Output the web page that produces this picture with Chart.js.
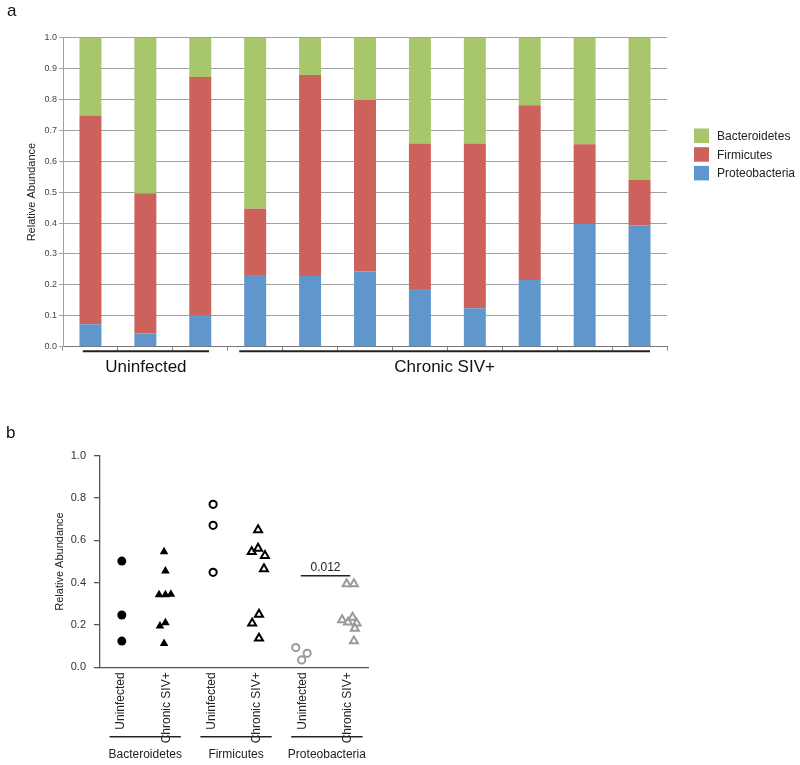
<!DOCTYPE html>
<html>
<head>
<meta charset="utf-8">
<script src="https://cdn.jsdelivr.net/npm/chart.js@4.4.0/dist/chart.umd.min.js"></script>
<style>
  body { margin: 0; background: #fff; }
  #wrap { position: relative; width: 800px; height: 765px; }
  #chartA { position: absolute; left: 0; top: 0; }
  #chartB { position: absolute; left: 0; top: 380px; }
</style>
</head>
<body>
<div id="wrap">
  <canvas id="chartA" width="800" height="380"></canvas>
  <canvas id="chartB" width="800" height="385"></canvas>
</div>
<script>
// ---- panel a : relative abundance per animal ----
const samples = ['U1', 'U2', 'U3', 'S1', 'S2', 'S3', 'S4', 'S5', 'S6', 'S7', 'S8'];
const proteobacteria = [0.073, 0.043, 0.100, 0.232, 0.229, 0.243, 0.187, 0.124, 0.216, 0.397, 0.393];
const firmicutes     = [0.675, 0.453, 0.772, 0.214, 0.650, 0.555, 0.470, 0.533, 0.565, 0.258, 0.146];
const bacteroidetes  = [0.252, 0.504, 0.128, 0.554, 0.121, 0.202, 0.343, 0.343, 0.219, 0.345, 0.461];
const groupNamesA = ['Uninfected', 'Chronic SIV+'];
const groupSpansA = [[-0.14, 2.16], [2.71, 10.19]];

// ---- panel b : per phylum, uninfected vs chronic ----
const xLabelsB = ['Uninfected', 'Chronic SIV+', 'Uninfected', 'Chronic SIV+', 'Uninfected', 'Chronic SIV+'];
const phylaB = ['Bacteroidetes', 'Firmicutes', 'Proteobacteria'];
const bactUninf = [0.502, 0.247, 0.124];
const bactUninfJit = [0.02, 0.02, 0.02];
const bactSiv = [0.546, 0.455, 0.343, 0.343, 0.345, 0.195, 0.210, 0.112];
const bactSivJit = [-0.05, -0.02, -0.16, -0.02, 0.10, -0.14, -0.02, -0.05];
const firmUninf = [0.770, 0.671, 0.449];
const firmUninfJit = [0.03, 0.03, 0.03];
const firmSiv = [0.649, 0.546, 0.562, 0.528, 0.465, 0.250, 0.208, 0.137];
const firmSivJit = [0.02, -0.12, 0.02, 0.17, 0.15, 0.04, -0.11, 0.04];
const protUninf = [0.093, 0.035, 0.066];
const protUninfJit = [-0.15, -0.02, 0.10];
const protSiv = [0.394, 0.394, 0.224, 0.213, 0.236, 0.208, 0.184, 0.124];
const protSivJit = [-0.03, 0.13, -0.13, 0.00, 0.10, 0.19, 0.15, 0.13];
const sigSpan = [4.96, 6.05];
const sigLevel = 0.433;
const sigLabel = '0.012';

const green = '#a8c66c';
const red = '#cd625c';
const blue = '#5f97cd';
const grey = '#9a9a9a';
const font = '"Liberation Sans", Arial, sans-serif';

Chart.defaults.font.family = font;
Chart.defaults.color = '#222';

// custom legend, group labels and panel letter for chart a
const panelAExtras = {
  id: 'panelAExtras',
  afterDraw(chart) {
    const ctx = chart.ctx;
    const area = chart.chartArea;
    const x = chart.scales.x;
    ctx.save();
    // legend (top to bottom = top of stack first)
    const ds = chart.data.datasets.slice().reverse();
    ds.forEach((d, k) => {
      const top = 128.5 + k * 18.7;
      ctx.fillStyle = d.backgroundColor;
      ctx.fillRect(area.right + 27, top, 15, 14.5);
      ctx.fillStyle = '#222';
      ctx.font = '12px ' + font;
      ctx.textBaseline = 'middle';
      ctx.textAlign = 'left';
      ctx.fillText(d.label, area.right + 50, top + 8);
    });
    // group underlines + names
    groupNamesA.forEach((name, i) => {
      const x1 = x.getPixelForValue(groupSpansA[i][0]);
      const x2 = x.getPixelForValue(groupSpansA[i][1]);
      ctx.strokeStyle = '#222';
      ctx.lineWidth = 2;
      ctx.beginPath();
      ctx.moveTo(x1, area.bottom + 4.5);
      ctx.lineTo(x2, area.bottom + 4.5);
      ctx.stroke();
      ctx.fillStyle = '#111';
      ctx.font = '17px ' + font;
      ctx.textAlign = 'center';
      ctx.textBaseline = 'alphabetic';
      ctx.fillText(name, (x1 + x2) / 2, area.bottom + 25.5);
    });
    ctx.font = '17px ' + font;
    ctx.textAlign = 'left';
    ctx.fillStyle = '#111';
    ctx.fillText('a', 7, 16);
    ctx.restore();
  }
};

new Chart(document.getElementById('chartA'), {
  type: 'bar',
  data: {
    labels: samples,
    datasets: [
      { label: 'Proteobacteria', data: proteobacteria, backgroundColor: blue },
      { label: 'Firmicutes', data: firmicutes, backgroundColor: red },
      { label: 'Bacteroidetes', data: bacteroidetes, backgroundColor: green }
    ]
  },
  options: {
    responsive: false,
    animation: false,
    barPercentage: 0.4,
    categoryPercentage: 1.0,
    layout: { padding: { left: 21, right: 133, top: 37.5, bottom: 28.3 } },
    plugins: { legend: { display: false }, tooltip: { enabled: false } },
    scales: {
      x: {
        stacked: true,
        ticks: { display: false },
        grid: { drawOnChartArea: false, drawTicks: true, tickLength: 4, color: '#888' },
        border: { color: '#777' },
        afterFit: s => { s.height = 5; }
      },
      y: {
        stacked: true,
        min: 0,
        max: 1,
        ticks: { stepSize: 0.1, padding: 2, color: '#444', font: { size: 9 }, callback: v => v.toFixed(1) },
        grid: { color: '#a0a0a0', tickLength: 4 },
        border: { color: '#a0a0a0' },
        title: { display: true, text: 'Relative Abundance', font: { size: 11 }, color: '#222' },
        afterFit: s => { s.width = 42; }
      }
    }
  },
  plugins: [panelAExtras]
});

// significance bar, group names and panel letter for chart b
const panelBExtras = {
  id: 'panelBExtras',
  afterDraw(chart) {
    const ctx = chart.ctx;
    const area = chart.chartArea;
    const x = chart.scales.x;
    const y = chart.scales.y;
    ctx.save();
    ctx.strokeStyle = '#222';
    ctx.fillStyle = '#222';
    // significance
    const sy = y.getPixelForValue(sigLevel);
    const sx1 = x.getPixelForValue(sigSpan[0]);
    const sx2 = x.getPixelForValue(sigSpan[1]);
    ctx.lineWidth = 1.5;
    ctx.beginPath();
    ctx.moveTo(sx1, sy);
    ctx.lineTo(sx2, sy);
    ctx.stroke();
    ctx.font = '12px ' + font;
    ctx.textAlign = 'center';
    ctx.textBaseline = 'alphabetic';
    ctx.fillText(sigLabel, (sx1 + sx2) / 2, sy - 5);
    // phylum underlines + names
    phylaB.forEach((name, i) => {
      const x1 = x.getPixelForValue(2 * i + 1 - 0.25);
      const x2 = x.getPixelForValue(2 * i + 2 + 0.32);
      ctx.lineWidth = 1.5;
      ctx.beginPath();
      ctx.moveTo(x1, area.bottom + 69.4);
      ctx.lineTo(x2, area.bottom + 69.4);
      ctx.stroke();
      ctx.fillText(name, (x1 + x2) / 2, area.bottom + 91);
    });
    ctx.font = '17px ' + font;
    ctx.textAlign = 'left';
    ctx.fillStyle = '#111';
    ctx.fillText('b', 6, 58.3);
    ctx.restore();
  }
};

function pts(vals, jit, pos) {
  return vals.map((v, i) => ({ x: pos + jit[i], y: v }));
}

new Chart(document.getElementById('chartB'), {
  type: 'scatter',
  data: {
    datasets: [
      { data: pts(bactUninf, bactUninfJit, 1), pointStyle: 'circle', pointRadius: 4.5, backgroundColor: '#000', borderColor: '#000', borderWidth: 0 },
      { data: pts(bactSiv, bactSivJit, 2), pointStyle: 'triangle', pointRadius: 5, backgroundColor: '#000', borderColor: '#000', borderWidth: 0 },
      { data: pts(firmUninf, firmUninfJit, 3), pointStyle: 'circle', pointRadius: 3.6, backgroundColor: '#fff', borderColor: '#000', borderWidth: 2 },
      { data: pts(firmSiv, firmSivJit, 4), pointStyle: 'triangle', pointRadius: 4.6, backgroundColor: '#fff', borderColor: '#000', borderWidth: 2 },
      { data: pts(protUninf, protUninfJit, 5), pointStyle: 'circle', pointRadius: 3.6, backgroundColor: '#fff', borderColor: grey, borderWidth: 2 },
      { data: pts(protSiv, protSivJit, 6), pointStyle: 'triangle', pointRadius: 4.6, backgroundColor: '#fff', borderColor: grey, borderWidth: 2 }
    ]
  },
  options: {
    responsive: false,
    animation: false,
    layout: { padding: { left: 49, right: 432, top: 75.7, bottom: 0 } },
    plugins: { legend: { display: false }, tooltip: { enabled: false } },
    scales: {
      x: {
        type: 'linear',
        min: 0.54,
        max: 6.44,
        afterBuildTicks: s => { s.ticks = xLabelsB.map((l, i) => ({ value: i + 1 })); },
        ticks: {
          autoSkip: false,
          minRotation: 90,
          maxRotation: 90,
          padding: 5,
          color: '#222',
          font: { size: 12 },
          callback: (v, i) => xLabelsB[i]
        },
        grid: { display: false, drawTicks: false },
        border: { color: '#555', width: 1.3 },
        afterFit: s => { s.height = 97.7; }
      },
      y: {
        min: 0,
        max: 1,
        ticks: { stepSize: 0.2, padding: 8, color: '#333', font: { size: 11 }, callback: v => v.toFixed(1) },
        grid: { drawOnChartArea: false, drawTicks: true, tickLength: 6, color: '#555', lineWidth: 1.3 },
        border: { color: '#555', width: 1.3 },
        title: { display: true, text: 'Relative Abundance', font: { size: 11 }, color: '#222' },
        afterFit: s => { s.width = 51; }
      }
    }
  },
  plugins: [panelBExtras]
});
</script>
</body>
</html>
